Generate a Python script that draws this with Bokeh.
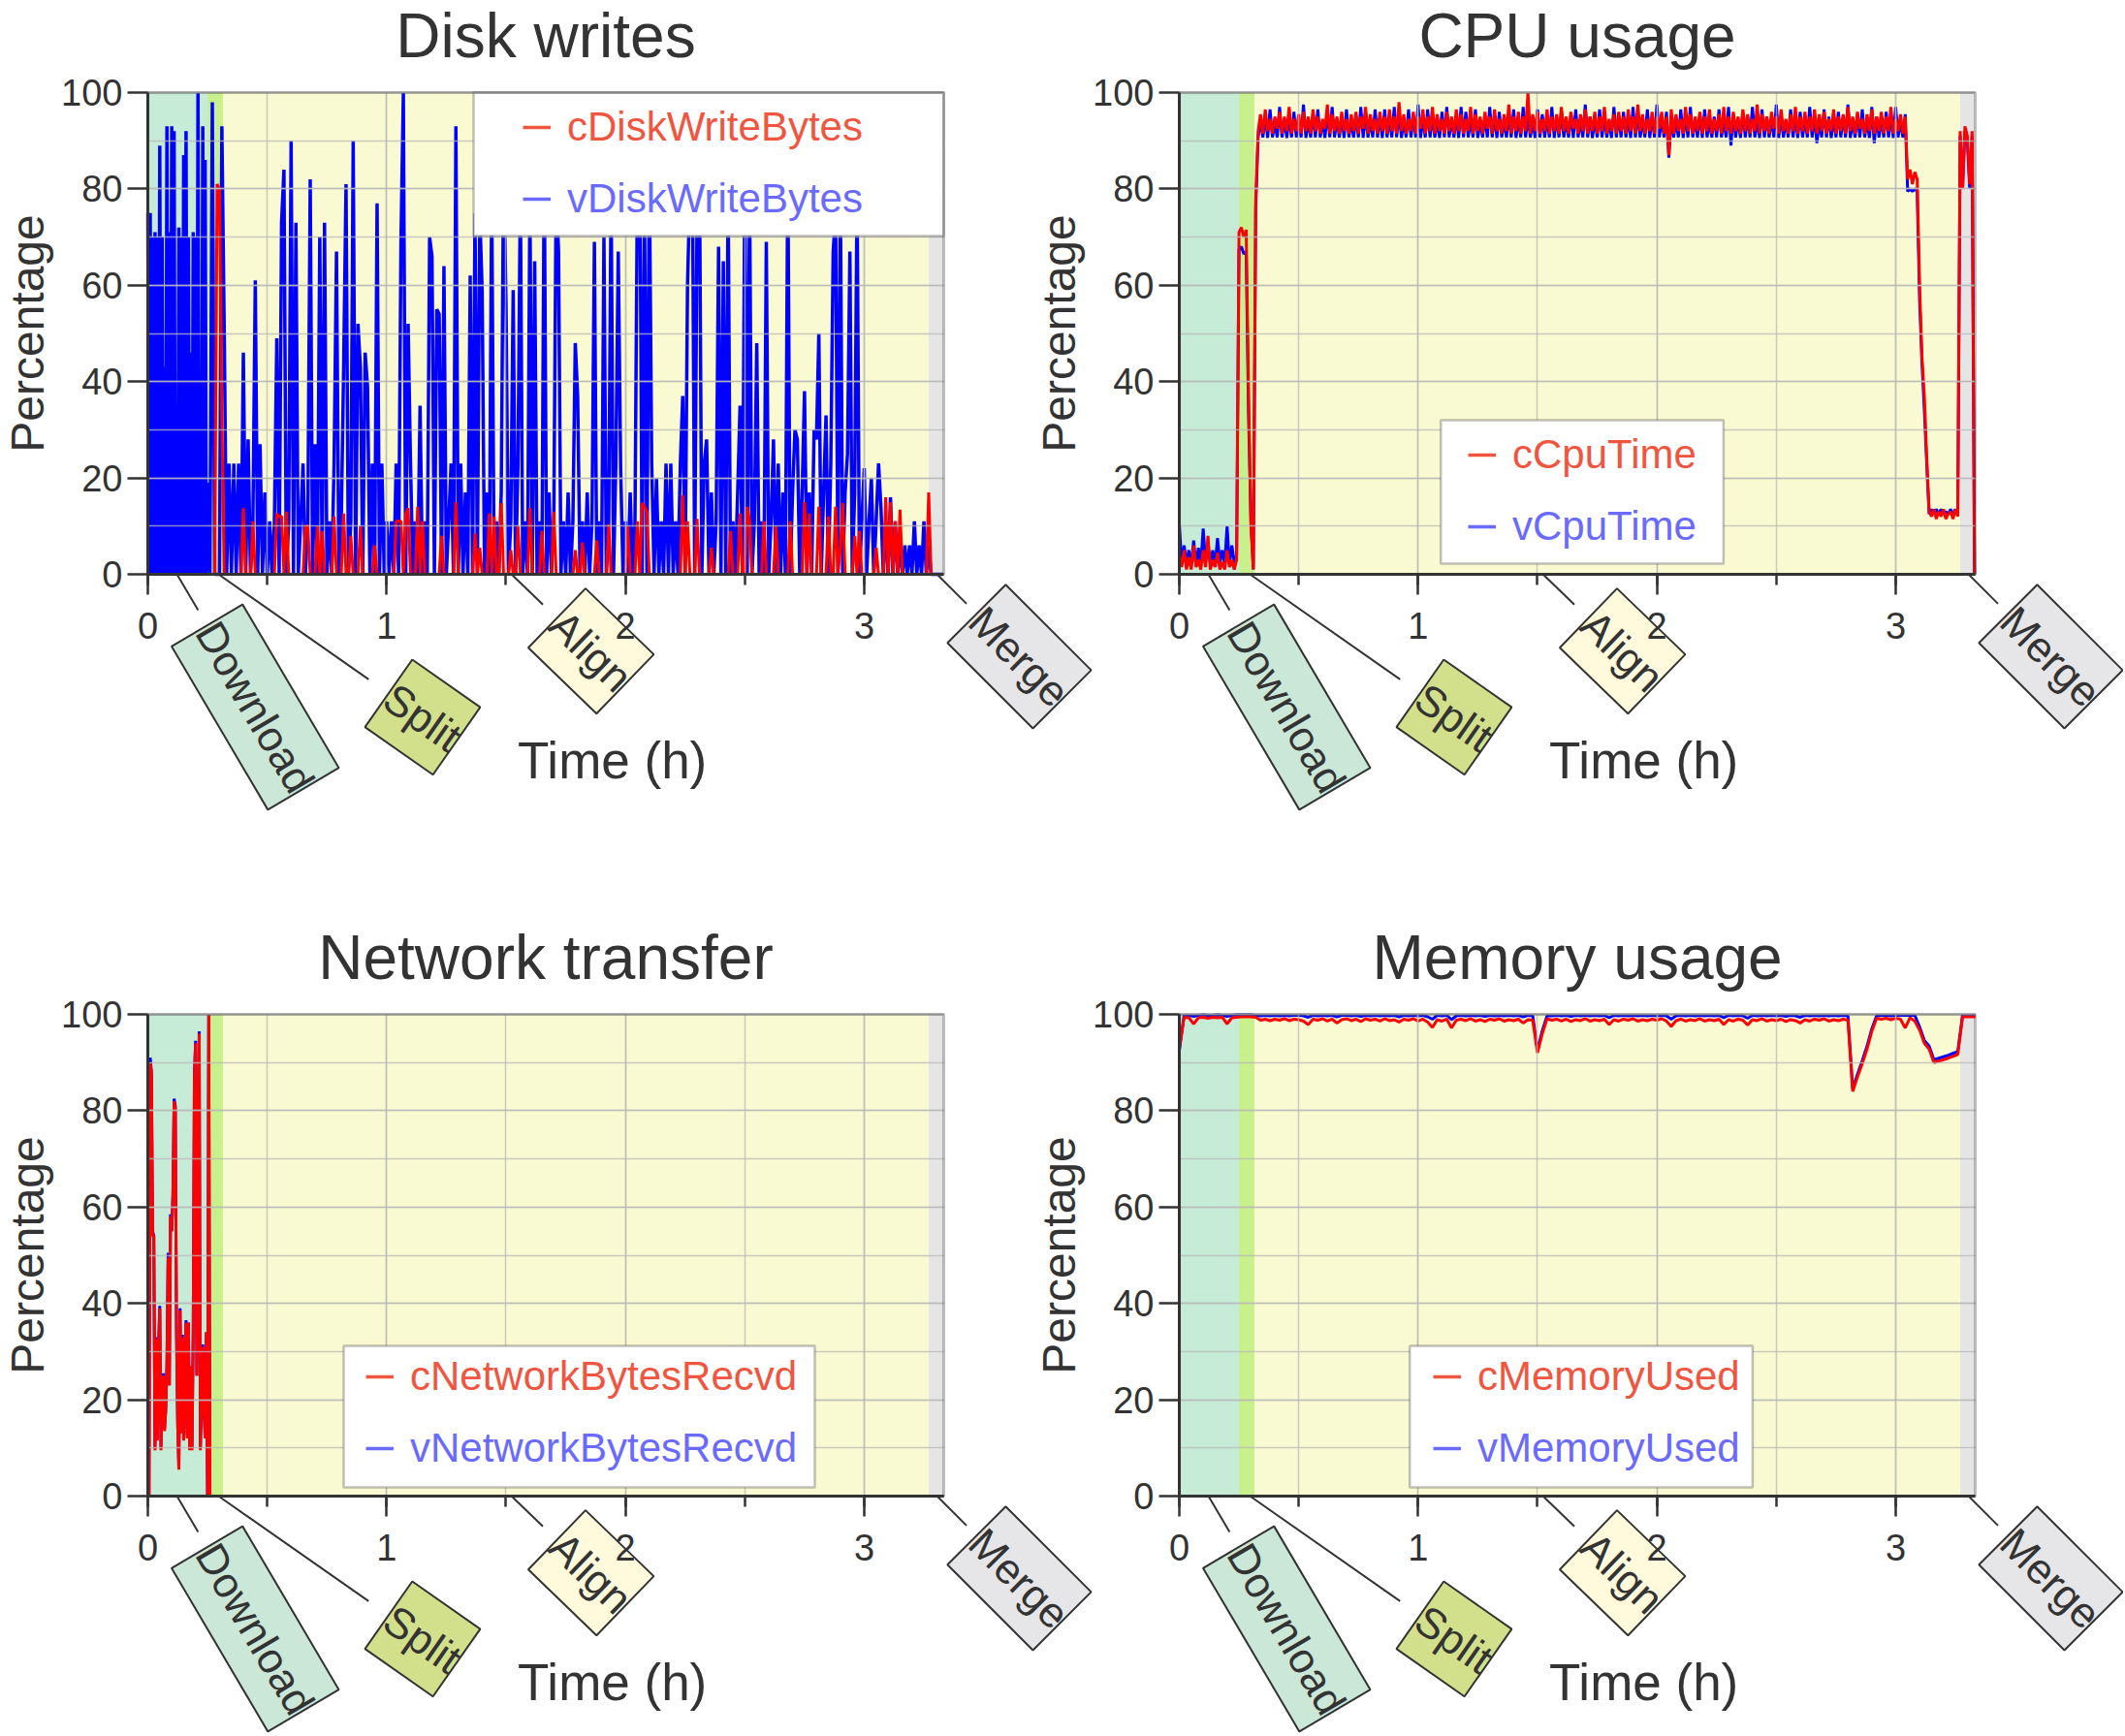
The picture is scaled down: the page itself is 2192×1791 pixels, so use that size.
import math
from bokeh.plotting import figure
from bokeh.models import (Range1d, BoxAnnotation, Label, Legend,
                          LegendItem, SingleIntervalTicker)
from bokeh.layouts import row, column
from bokeh.embed import file_html
from bokeh.resources import INLINE

# ============================ DATA ============================
time_max_h = 3.333
x_tick_step = 1
y_tick_step = 20

phase_names = ["Download", "Split", "Align", "Merge"]
phase_start = [0.0, 0.25, 0.315, 3.27]
phase_end = [0.25, 0.315, 3.27, 3.333]

panel_titles = ["Disk writes", "CPU usage", "Network transfer", "Memory usage"]
c_names = ["cDiskWriteBytes", "cCpuTime", "cNetworkBytesRecvd", "cMemoryUsed"]
v_names = ["vDiskWriteBytes", "vCpuTime", "vNetworkBytesRecvd", "vMemoryUsed"]
x_title = "Time (h)"
y_title = "Percentage"

# --- disk writes ---
# vDiskWriteBytes: one sample every 0.005 h during the download, then every 0.01 h
disk_fast_dt = 0.005
disk_fast_end = 0.25
disk_dt = 0.01
v_disk_fast = [
    75, 0, 75, 0, 70, 0, 71, 0, 70, 0,
    89, 0, 70, 0, 43, 0, 93, 0, 71, 0,
    93, 0, 92, 0, 34, 0, 72, 0, 70, 0,
    87, 0, 92, 0, 70, 0, 46, 0, 71, 0,
    70, 0, 100, 0, 8, 0, 93, 0, 86, 0,
]
v_disk_slow = [
    19, 0, 98, 0, 0,
    0, 93, 50, 0, 23, 0, 23, 0, 23, 0,
    46, 0, 28, 0, 11, 61, 0, 27, 0, 17,
    0, 11, 0, 11, 49, 0, 73, 84, 0, 11,
    90, 0, 73, 0, 11, 23, 0, 11, 82, 0,
    27, 0, 70, 0, 73, 0, 11, 0, 23, 67,
    0, 11, 43, 81, 0, 11, 90, 0, 52, 43,
    0, 46, 39, 0, 23, 0, 77, 0, 23, 0,
    11, 0, 11, 0, 23, 0, 69, 100, 0, 52,
    23, 0, 11, 0, 35, 0, 11, 0, 70, 66,
    0, 55, 54, 0, 64, 0, 11, 23, 0, 93,
    0, 23, 0, 17, 0, 62, 0, 75, 0, 75,
    59, 0, 17, 0, 80, 0, 11, 0, 17, 85,
    56, 0, 11, 59, 0, 23, 80, 0, 11, 0,
    78, 0, 65, 0, 11, 0, 85, 0, 17, 0,
    11, 80, 67, 0, 11, 0, 17, 0, 11, 48,
    37, 0, 11, 0, 17, 0, 11, 69, 0, 11,
    0, 70, 0, 11, 80, 0, 23, 67, 22, 0,
    11, 0, 17, 0, 11, 80, 90, 0, 75, 0,
    85, 23, 0, 20, 0, 11, 0, 23, 0, 23,
    0, 11, 0, 23, 37, 0, 60, 80, 90, 0,
    75, 85, 0, 23, 28, 0, 17, 0, 11, 68,
    0, 65, 0, 80, 0, 11, 0, 17, 35, 0,
    85, 0, 80, 0, 11, 48, 0, 11, 0, 69,
    0, 11, 28, 0, 23, 0, 17, 0, 85, 0,
    17, 30, 28, 0, 17, 38, 0, 17, 0, 30,
    28, 50, 0, 17, 33, 0, 23, 67, 75, 0,
    80, 0, 17, 25, 67, 0, 17, 80, 0, 11,
    22, 0, 11, 20, 0, 11, 23, 14, 0, 11,
    0, 16, 0, 11, 0, 6, 0, 6, 0, 6,
    0, 11, 0, 6, 0, 11, 0, 6, 0, 0,
    0, 0, 0, 0,
]
# cDiskWriteBytes: one sample every 0.01 h
c_disk = [
    0, 0, 0, 0, 0, 0, 0, 0, 0, 0,
    0, 0, 0, 0, 0, 0, 0, 0, 0, 0,
    0, 0, 0, 0, 0, 0, 0, 0, 0, 81,
    80, 32, 0, 0, 0, 0, 0, 0, 0, 0,
    13.7, 0, 0, 0, 11, 0, 0, 0, 0, 0,
    0, 0, 0, 0, 12.6, 12, 12, 0, 13, 0,
    0, 0, 0, 0, 0, 0, 10, 10, 0, 0,
    0, 10, 0, 9, 0, 0, 0, 0, 12, 0,
    0, 0, 12.6, 0, 0, 8, 0, 0, 0, 10,
    0, 0, 0, 0, 0, 6, 0, 0, 0, 0,
    0, 0, 0, 0, 11, 11, 11, 0, 12.6, 13.7,
    0, 0, 0, 14, 0, 11, 0, 0, 0, 0,
    0, 0, 0, 8, 0, 0, 0, 0, 0, 15,
    0, 0, 0, 0, 0, 0, 0, 8.5, 0, 5.5,
    0, 0, 0, 12.6, 0, 12, 0, 0, 14.8, 0,
    0, 0, 5, 0, 0, 10, 0, 0, 0, 0,
    13.7, 0, 0, 0, 0, 9, 0, 0, 0, 0,
    13, 0, 0, 0, 0, 0, 0, 0, 0, 5,
    0, 0, 6.6, 0, 0, 0, 0, 0, 7, 0,
    0, 0, 0, 10.4, 0, 0, 0, 0, 0, 0,
    0, 10, 0, 0, 0, 11, 0, 14.8, 14, 13,
    0, 0, 0, 0, 0, 0, 0, 0, 0, 0,
    0, 0, 0, 0, 16.4, 0, 11, 0, 0, 0,
    11.5, 0, 0, 0, 0, 0, 5.5, 0, 0, 0,
    0, 0, 0, 0, 9, 0, 0, 0, 12.6, 0,
    0, 14, 11, 0, 0, 0, 0, 0, 11, 0,
    0, 0, 0, 10, 0, 0, 0, 0, 0, 11,
    0, 0, 0, 0, 0, 15, 0, 12.6, 0, 0,
    0, 14, 0, 0, 0, 12, 0, 0, 14, 0,
    5.5, 14.8, 0, 0, 0, 0, 8, 0, 9, 0,
    0, 0, 0, 0, 0, 5.5, 0, 0, 0, 16,
    0, 15, 0, 11, 0, 13.4, 0, 0, 0, 0,
    0, 0, 0, 0, 0, 0, 0, 17, 0, 0,
    0, 0, 0, 0,
]

# --- CPU usage, one sample every 0.01 h ---
cpu_dt = 0.01
c_cpu = [
    4, 1.5, 5, 1, 3.5, 1, 6, 1.5, 3, 1,
    5, 1.5, 8, 1, 3, 1.5, 4.5, 1, 2.5, 1,
    5, 1.5, 3, 1, 3,
    71, 72, 70, 71.5, 37, 10, 1, 78,
    92, 95.5, 91.5, 96.5, 92, 94.5, 91.5, 95, 92.5, 96,
    91.5, 95, 92, 97, 91.5, 94.5, 92, 95.5, 91.5, 96,
    92, 95, 91.5, 96.5, 92, 95, 91.5, 94.5, 92.5, 97.5,
    91.5, 95.5, 92, 95, 91.5, 96, 92, 94.5, 91.5, 95.5,
    92, 96, 91.5, 95, 92.5, 97, 91.5, 95.5, 92, 94.5,
    91.5, 96, 92, 95, 91.5, 96.5, 92, 95, 91.5, 98,
    92, 95.5, 91.5, 94.5, 92, 96, 91.5, 95, 92.5, 96.5,
    91.5, 95, 92, 97, 91.5, 95.5, 92, 94.5, 91.5, 96,
    92, 95, 91.5, 96.5, 92, 95.5, 91.5, 94.5, 92, 97,
    91.5, 95.5, 92, 95, 91.5, 96, 92.5, 95, 91.5, 96.5,
    92, 94.5, 91.5, 95.5, 92, 97.5, 91.5, 95, 92, 96,
    91.5, 95, 92, 100, 91.5, 95.5, 92, 96, 91.5, 94.5,
    92, 96.5, 91.5, 95, 92, 95.5, 91.5, 97, 92, 95,
    91.5, 96, 92.5, 94.5, 91.5, 95.5, 92, 96.5, 91.5, 95,
    92, 96, 91.5, 95, 92, 97, 91.5, 94.5, 92, 95.5,
    91.5, 96, 92, 95, 91.5, 96.5, 92, 95, 91.5, 97.5,
    92, 95.5, 91.5, 94.5, 92, 96, 91.5, 95, 92.5, 96,
    91.5, 95, 87, 96.5, 91.5, 95.5, 92, 94.5, 91.5, 97,
    92, 95.5, 91.5, 95, 92, 96, 91.5, 95, 92, 96.5,
    91.5, 94.5, 92, 95.5, 91.5, 97, 92, 95, 91.5, 96,
    92, 95, 91.5, 96.5, 92, 95.5, 91.5, 94.5, 92, 97.5,
    91.5, 95.5, 92, 95, 91.5, 96, 92.5, 95, 91.5, 96.5,
    92, 94.5, 91.5, 95.5, 92, 97, 91.5, 95, 92, 96,
    91.5, 95, 92, 96.5, 91.5, 95.5, 92, 96, 91.5, 94.5,
    92, 96.5, 91.5, 95, 92, 95.5, 91.5, 97, 92, 95,
    91.5, 96, 92.5, 94.5, 91.5, 95.5, 92, 96.5, 91.5, 95,
    92, 96, 91.5, 95, 92, 97, 91.5, 94.5, 92, 95.5,
    91.5, 95,
    82, 84, 81, 83.5, 82, 60, 45, 37, 24, 13,
    12, 13.5, 11.5, 13, 12, 13.5, 11.5, 12.5, 13, 11.5, 13.5, 12,
    92, 80, 93, 91, 81, 92, 0,
]
v_cpu = [
    10.5, 2, 6, 2.5, 5, 2, 7, 2, 5.5, 2,
    9.5, 2.5, 6, 2, 5, 2, 7.5, 2.5, 5, 2,
    10, 2, 6, 2.5, 4,
    67.5, 68, 66.5, 67, 33, 11, 1, 76,
    90.7, 94, 90.7, 95, 90.6, 96.5, 90.7, 93.5, 90.7, 97,
    90.7, 94.5, 90.6, 95, 90.7, 96, 90.7, 94, 90.7, 97.5,
    90.6, 94, 90.7, 95.5, 90.7, 96.5, 90.7, 94, 90.6, 96,
    90.7, 97, 90.7, 94.5, 90.7, 95, 90.6, 96.5, 90.7, 94,
    90.7, 95, 90.7, 97, 90.6, 95.5, 90.7, 94, 90.7, 96.5,
    90.7, 95, 90.6, 96.5, 90.7, 94.5, 90.7, 97, 90.7, 96,
    90.6, 94, 90.7, 96.5, 90.7, 95, 90.7, 97.5, 90.6, 94.5,
    90.7, 96.5, 90.7, 95, 90.7, 94, 90.6, 96, 90.7, 97,
    90.7, 94.5, 90.7, 95, 90.6, 97, 90.7, 96, 90.7, 94.5,
    90.7, 96.5, 90.6, 94, 90.7, 95, 90.7, 97, 90.7, 95,
    90.6, 96, 90.7, 94, 90.7, 95.5, 90.7, 96.5, 90.6, 94.5,
    90.7, 97, 90.7, 95, 90.7, 94, 90.6, 96.5, 90.7, 95.5,
    90.7, 94.5, 90.7, 97, 90.6, 95, 90.7, 96, 90.7, 94,
    90.7, 95.5, 90.6, 96.5, 90.7, 94, 90.7, 97.5, 90.7, 95,
    90.6, 94.5, 90.7, 96.5, 90.7, 95, 90.7, 94, 90.6, 97,
    90.7, 95, 90.7, 96, 90.7, 94.5, 90.6, 97, 90.7, 95.5,
    90.7, 94, 90.7, 96.5, 90.6, 95, 90.7, 97.5, 90.7, 94.5,
    90.7, 96, 86.5, 95, 90.7, 94, 90.7, 96.5, 90.6, 95,
    90.7, 97, 90.7, 94.5, 90.7, 95.5, 90.6, 96.5, 90.7, 94,
    90.7, 95, 90.7, 96.5, 90.7, 94, 90.7, 97, 89, 95.5,
    90.7, 94.5, 90.6, 96, 90.7, 95, 90.7, 97, 90.7, 94,
    90.6, 96.5, 90.7, 95, 90.7, 94.5, 90.7, 97.5, 90.6, 95,
    90.7, 94, 90.7, 96.5, 90.7, 95, 90.6, 96, 90.7, 94.5,
    90.7, 97, 90.7, 95, 89.5, 94, 90.7, 96.5, 90.7, 95,
    90.6, 94.5, 90.7, 96, 90.7, 95, 90.7, 97.5, 90.6, 94,
    90.7, 95.5, 90.7, 96.5, 90.7, 94, 90.6, 97, 89.5, 95,
    90.7, 94.5, 90.7, 96, 90.7, 95, 90.6, 97, 90.7, 94,
    90.7, 95.5,
    79.5, 80, 79.5, 80, 79.5, 57, 44, 34, 23, 12.5,
    13.5, 12.5, 13.5, 12.5, 13.5, 12.5, 13, 12.5, 13.5, 12.5, 13.5, 12.5,
    91, 80, 92, 90, 80, 91, 0,
]

# --- network transfer, one sample every 0.005 h, then idle to the end ---
net_dt = 0.005
c_net = [
    0, 0, 90, 88, 54, 54, 9.5, 32.6, 11.5, 31,
    39, 9.5, 20, 25, 13.5, 18, 27, 49.5, 23, 58,
    55, 62, 82, 80.5, 35, 15, 5.5, 38.6, 13, 33,
    11.5, 25, 36, 12, 36, 9.5, 27, 9.5, 34, 87,
    94, 25, 60, 96, 9.5, 22, 31, 18, 12, 34,
    0, 100, 0, 0,
]
v_net = [
    0, 0, 91, 88, 55, 54, 10, 33, 12, 31,
    39.5, 10, 20, 25.5, 14, 18, 27.5, 50.5, 23, 58.5,
    55, 62.5, 82.5, 81, 35, 15.5, 6, 39, 13, 33.5,
    12, 25, 36.5, 12.5, 36, 10, 27, 10, 34.5, 87.5,
    94.5, 25, 60.5, 96.5, 10, 22, 31.5, 18, 12.5, 34,
    0, 100, 0, 0,
]

# --- memory usage, one sample every 0.02 h (last sample at the end of the run) ---
mem_dt = 0.02
c_mem = [
    93.0, 99.4, 99.3, 98.0, 99.3, 99.4, 99.2, 99.4, 99.3, 99.4,
    98.0, 99.3, 99.4, 99.5, 99.5, 99.5, 99.4, 98.8, 99.0, 98.7,
    99.0, 98.8, 99.1, 98.7, 99.0, 98.9, 98.6, 97.9, 99.0, 98.8,
    99.1, 98.6, 99.0, 98.2, 98.9, 99.1, 98.7, 99.0, 98.5, 99.1,
    98.8, 99.0, 98.6, 99.1, 98.7, 98.9, 98.4, 99.0, 98.8, 99.1,
    98.6, 99.0, 98.4, 97.3, 98.9, 98.6, 99.0, 97.2, 98.8, 99.0,
    98.7, 99.1, 98.6, 98.9, 98.5, 99.0, 98.8, 99.1, 98.6, 98.9,
    98.7, 99.0, 98.2, 98.9, 98.8, 92.0, 96.0, 99.1, 98.8, 99.0,
    98.6, 99.0, 98.5, 98.9, 98.7, 99.1, 98.6, 98.9, 98.7, 99.0,
    97.9, 98.9, 98.6, 99.0, 98.8, 99.1, 98.6, 98.9, 98.7, 99.0,
    98.8, 99.1, 98.6, 97.5, 98.7, 99.0, 98.6, 98.9, 98.7, 99.1,
    98.6, 98.9, 98.7, 99.0, 97.9, 98.9, 98.6, 99.0, 98.8, 97.8,
    98.9, 98.7, 99.1, 98.6, 98.9, 98.7, 99.0, 98.5, 98.9, 98.7,
    98.2, 98.9, 98.6, 99.0, 98.8, 99.1, 98.6, 98.9, 98.7, 99.0,
    98.8, 84.0, 87.0, 89.8, 92.8, 96.5, 99.2, 99.0, 99.2, 98.9,
    99.2, 99.0, 97.2, 99.3, 98.6, 96.8, 94.0, 92.8, 90.0, 90.3,
    90.6, 90.9, 91.3, 91.7, 99.5, 99.5, 99.5, 99.5,
]
v_mem = [
    92.5, 99.8, 99.8, 99.6, 99.8, 99.9, 99.8, 99.8, 99.9, 99.8,
    99.6, 99.8, 99.9, 99.9, 99.9, 99.9, 99.8, 99.7, 99.8, 99.7,
    99.8, 99.7, 99.8, 99.7, 99.8, 99.8, 99.7, 99.4, 99.8, 99.7,
    99.8, 99.7, 99.8, 99.5, 99.8, 99.8, 99.7, 99.8, 99.6, 99.8,
    99.7, 99.8, 99.7, 99.8, 99.7, 99.8, 99.5, 99.8, 99.7, 99.8,
    99.7, 99.8, 99.5, 99.0, 99.8, 99.7, 99.8, 98.9, 99.7, 99.8,
    99.7, 99.8, 99.7, 99.8, 99.6, 99.8, 99.7, 99.8, 99.7, 99.8,
    99.7, 99.8, 99.5, 99.8, 99.7, 92.6, 96.6, 99.7, 99.7, 99.8,
    99.7, 99.8, 99.6, 99.8, 99.7, 99.8, 99.7, 99.8, 99.7, 99.8,
    99.3, 99.8, 99.7, 99.8, 99.7, 99.8, 99.7, 99.8, 99.7, 99.8,
    99.7, 99.8, 99.7, 99.0, 99.7, 99.8, 99.7, 99.8, 99.7, 99.8,
    99.7, 99.8, 99.7, 99.8, 99.3, 99.8, 99.7, 99.8, 99.7, 99.2,
    99.8, 99.7, 99.8, 99.7, 99.8, 99.7, 99.8, 99.6, 99.8, 99.7,
    99.4, 99.8, 99.7, 99.8, 99.7, 99.8, 99.7, 99.8, 99.7, 99.8,
    99.7, 84.6, 87.6, 90.4, 93.4, 97.0, 99.7, 99.8, 99.8, 99.7,
    99.8, 99.8, 99.8, 99.8, 99.8, 97.4, 94.6, 93.4, 90.6, 90.9,
    91.2, 91.5, 91.9, 92.3, 99.8, 99.8, 99.8, 99.8,
]

# ============================ STYLE / LAYOUT ============================
FONT = "Liberation Sans"
INK = "#333333"
PHASE_FILL = ["#c6ebd6", "#c8f08c", "#fafad2", "#e5e5e5"]
TAG_FILL = ["#cbe7d7", "#d3e08b", "#fffadb", "#e6e6e8"]
C_LINE, V_LINE = "#ff0000", "#0000ff"
C_TEXT, V_TEXT = "#f0553f", "#6a6aff"
LINE_W = [(3.0, 3.5), (3.0, 3.0), (3.0, 3.0), (3.0, 3.0)]   # (c, v) per panel
GRID = "#b8b8b8"

PLOT_W_PX, PLOT_H_PX = 821, 497          # size of the 0..3.333 h x 0..100 % box
PX_PER_H = PLOT_W_PX / time_max_h
PX_PER_PCT = PLOT_H_PX / 100.0

FIG_W = [1135, 1144]          # per column
AXIS_X_PX = [152, 170]        # position of the 0 h line inside each figure
FIG_H = [951, 885]            # per row
BORDER_T = 120                # title band above the drawing area
TOP_EXTRA_PX = 20             # drawing area above the 100 % line (room for the top tick label)
FIG_MARGIN = [(-45, 0, 0, 0), (-45, 0, 0, -89), (0, 0, 0, 0), (0, 0, 0, -89)]

TITLE_PX = 64
# Liberation Sans (Arial metrics) advance widths, 1/1000 em, used to centre titles over the box
ADV = {"D": 722, "i": 222, "s": 500, "k": 500, " ": 278, "w": 722, "r": 333, "t": 278,
       "e": 556, "C": 722, "P": 667, "U": 722, "u": 556, "a": 556, "g": 556, "N": 722,
       "o": 556, "n": 556, "f": 278, "M": 833, "m": 833, "y": 500}

# phase tags under the time axis: anchor (h), angle (deg), leader length / centre distance (px)
TAG_ANCHOR = [0.122, 0.296, 1.523, 3.305]
TAG_ANGLE = [59.5, 35.0, 44.0, 45.0]
TAG_LEADER = [43, 189, 45, 43]
TAG_CENTER = [159, 257, 114, 120]
TAG_PAD = 18

# legend boxes (data units: left, right, top, bottom); rows in px above the 0 % line
LEG_BOX = [(1.364, 3.333, 100, 70.2), (1.095, 2.279, 32.0, 2.2),
           (0.820, 2.793, 31.2, 1.8), (0.965, 2.401, 31.2, 1.8)]
LEG_X = [387, 298, 225, 262]
LEG_ROWS = [(461, 387), (123, 49), (123, 49), (123, 49)]
LEG_ROW_H = 48

XLABEL_T = 1.945
XLABEL_DROP_PX = 192
YLABEL_LEFT_PX = 124


def series_times(dt, n):
    return [round(i * dt, 4) for i in range(n)]


disk_v_t = series_times(disk_fast_dt, len(v_disk_fast)) + \
    [round(disk_fast_end + i * disk_dt, 4) for i in range(len(v_disk_slow))]
series = [
    (series_times(disk_dt, len(c_disk)), c_disk, disk_v_t, v_disk_fast + v_disk_slow),
    (series_times(cpu_dt, len(c_cpu)), c_cpu, series_times(cpu_dt, len(v_cpu)), v_cpu),
    (series_times(net_dt, len(c_net) - 1) + [time_max_h], c_net,
     series_times(net_dt, len(v_net) - 1) + [time_max_h], v_net),
    (series_times(mem_dt, len(c_mem) - 1) + [time_max_h], c_mem,
     series_times(mem_dt, len(v_mem) - 1) + [time_max_h], v_mem),
]


def make_panel(k):
    col, rw = k % 2, k // 2
    fw, ax0, fh = FIG_W[col], AXIS_X_PX[col], FIG_H[rw]
    frame_h = fh - BORDER_T
    below_px = frame_h - PLOT_H_PX - TOP_EXTRA_PX
    p = figure(width=fw, height=fh,
               x_range=Range1d(-ax0 / PX_PER_H, (fw - ax0) / PX_PER_H),
               y_range=Range1d(-below_px / PX_PER_PCT, 100 + TOP_EXTRA_PX / PX_PER_PCT),
               output_backend="svg", toolbar_location=None,
               min_border_left=0, min_border_right=0,
               min_border_top=BORDER_T, min_border_bottom=0,
               margin=FIG_MARGIN[k])
    transparent = (col == 1)
    p.border_fill_color = "white"
    p.border_fill_alpha = 0.0 if transparent else 1.0
    p.background_fill_color = "white"
    p.background_fill_alpha = 0.0 if transparent else 1.0
    p.outline_line_color = None

    title_w = sum(ADV[ch] for ch in panel_titles[k]) * TITLE_PX / 1000.0
    p.title.text = panel_titles[k]
    p.title.align = "left"
    p.title.offset = ax0 + PLOT_W_PX / 2 - title_w / 2
    p.title.text_font = FONT
    p.title.text_font_size = f"{TITLE_PX}px"
    p.title.text_font_style = "normal"
    p.title.text_color = INK
    p.title.standoff = 6

    for s, e, fc in zip(phase_start, phase_end, PHASE_FILL):
        p.add_layout(BoxAnnotation(left=s, right=e, bottom=0, top=100, fill_color=fc,
                                   fill_alpha=1.0, line_alpha=0, level="underlay"))

    # axes sit on the 0 h / 0 % lines and are bounded to the data box
    p.xaxis.ticker = SingleIntervalTicker(interval=x_tick_step, num_minor_ticks=2)
    p.yaxis.ticker = SingleIntervalTicker(interval=y_tick_step, num_minor_ticks=2)
    p.xaxis.fixed_location = 0
    p.yaxis.fixed_location = 0
    p.xaxis.bounds = (0, time_max_h)
    p.yaxis.bounds = (0, 100)
    for ax in (p.xaxis, p.yaxis):
        ax.level = "overlay"
        ax.axis_line_color = INK
        ax.axis_line_width = 3
        ax.major_tick_line_color = INK
        ax.major_tick_line_width = 2.5
        ax.major_tick_in = 0
        ax.major_tick_out = 21
        ax.major_label_text_font = FONT
        ax.major_label_text_font_size = "38px"
        ax.major_label_text_color = INK
    p.xaxis.minor_tick_line_color = INK
    p.xaxis.minor_tick_line_width = 2.5
    p.xaxis.minor_tick_in = 0
    p.xaxis.minor_tick_out = 11
    p.xaxis.major_label_standoff = 18
    p.yaxis.minor_tick_line_color = None
    p.yaxis.major_label_standoff = 5

    p.xgrid.bounds = (0, time_max_h)
    p.xgrid.cross_bounds = (0, 100)
    p.ygrid.bounds = (0, 100)
    p.ygrid.cross_bounds = (0, time_max_h)
    for g in (p.xgrid, p.ygrid):
        g.grid_line_color = GRID
        g.grid_line_alpha = 0.75
        g.grid_line_width = 1.5
        g.minor_grid_line_color = GRID
        g.minor_grid_line_alpha = 0.75
        g.minor_grid_line_width = 1.5
        g.level = "guide"

    tc, yc, tv, yv = series[k]
    wc, wv = LINE_W[k]
    p.line(tv, yv, line_color=V_LINE, line_width=wv)
    p.line(tc, yc, line_color=C_LINE, line_width=wc)

    # legend: white box plus one single-row legend per series (own text colour)
    l, r, t, b = LEG_BOX[k]
    p.add_layout(BoxAnnotation(left=l, right=r, top=t, bottom=b, fill_color="white",
                               fill_alpha=1.0, line_color=INK, line_width=2.5,
                               level="annotation"))
    # outline of the data box
    p.add_layout(BoxAnnotation(left=0, right=time_max_h, bottom=0, top=100,
                               fill_alpha=0.0, line_color=INK, line_width=3,
                               level="annotation"))
    leg_c = p.line(tc[:1], yc[:1], line_color=C_TEXT, line_width=3.5)
    leg_v = p.line(tv[:1], yv[:1], line_color=V_TEXT, line_width=3.5)
    for name, rend, color, ycen in ((c_names[k], leg_c, C_TEXT, LEG_ROWS[k][0]),
                                    (v_names[k], leg_v, V_TEXT, LEG_ROWS[k][1])):
        lg = Legend(items=[LegendItem(label=name, renderers=[rend])],
                    location=(ax0 + LEG_X[k], below_px + ycen - LEG_ROW_H // 2),
                    padding=0, spacing=0, margin=0,
                    border_line_alpha=0, background_fill_alpha=0,
                    label_text_font=FONT, label_text_font_size="42px",
                    label_text_color=color, glyph_width=29,
                    glyph_height=LEG_ROW_H, label_height=LEG_ROW_H,
                    label_standoff=17)
        p.add_layout(lg)

    # phase tags with leader lines, below the time axis
    angs = [math.radians(a) for a in TAG_ANGLE]
    x1 = [a + L * math.cos(g) / PX_PER_H for a, L, g in zip(TAG_ANCHOR, TAG_LEADER, angs)]
    y1 = [-L * math.sin(g) / PX_PER_PCT for L, g in zip(TAG_LEADER, angs)]
    p.segment(x0=TAG_ANCHOR, y0=[0.0] * len(TAG_ANCHOR), x1=x1, y1=y1,
              line_color=INK, line_width=2)
    for i, name in enumerate(phase_names):
        g = angs[i]
        cx = TAG_ANCHOR[i] + TAG_CENTER[i] * math.cos(g) / PX_PER_H
        cy = -TAG_CENTER[i] * math.sin(g) / PX_PER_PCT
        p.add_layout(Label(x=cx, y=cy, text=name, angle=-g,
                           text_align="center", text_baseline="middle",
                           text_font=FONT, text_font_size="44px", text_color=INK,
                           background_fill_color=TAG_FILL[i], background_fill_alpha=1.0,
                           border_line_color=INK, border_line_width=2,
                           padding=(0, TAG_PAD)))

    # axis titles
    p.add_layout(Label(x=XLABEL_T, y=-XLABEL_DROP_PX / PX_PER_PCT, text=x_title,
                       text_align="center", text_baseline="alphabetic",
                       text_font=FONT, text_font_size="53px", text_color=INK))
    p.add_layout(Label(x=-YLABEL_LEFT_PX / PX_PER_H, y=50, text=y_title,
                       angle=math.pi / 2, text_align="center", text_baseline="middle",
                       text_font=FONT, text_font_size="48px", text_color=INK))
    return p


panels = [make_panel(k) for k in range(4)]
layout = column(row(panels[0], panels[1]), row(panels[2], panels[3]))

with open("out.html", "w") as f:
    f.write(file_html(layout, INLINE, "Resource usage"))
